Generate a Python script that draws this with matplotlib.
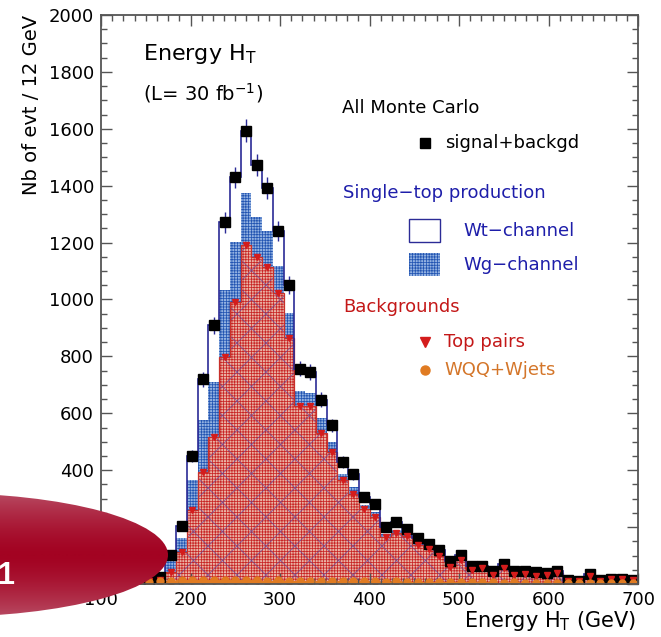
import numpy as np
import matplotlib
matplotlib.use("Agg")
import matplotlib.pyplot as plt
from matplotlib.patches import Rectangle, Ellipse
from matplotlib.ticker import MultipleLocator
from matplotlib.colors import LinearSegmentedColormap
from matplotlib.collections import LineCollection

# H_T histogram, 12 GeV bins from 100 to 700 GeV
bin_edges = np.arange(100, 701, 12)

# events per bin for each contribution (stacked bottom to top)
wjets = [0, 0, 1, 2, 6, 10, 12, 14, 14, 15, 14, 15, 14, 13, 14, 12, 13, 12, 11, 12,
         10, 11, 10, 9, 10, 9, 8, 9, 8, 8, 7, 8, 7, 6, 7, 6, 6, 5, 6, 5,
         5, 5, 4, 5, 4, 4, 4, 3, 4, 3]
top_pairs = [0, 1, 1, 3, 4, 5, 31, 99, 246, 379, 501, 782, 976, 1177, 1135, 1102, 1009, 852, 614, 615,
             519, 453, 355, 306, 253, 225, 158, 169, 160, 129, 115, 90, 54, 78, 42, 49, 26, 52, 26, 30,
             23, 27, 34, 7, 6, 24, 8, 14, 13, 10]
wg_channel = [0, 0, 0, 0, 2, 5, 41, 47, 107, 184, 195, 235, 211, 184, 142, 128, 94, 87, 53, 46,
              56, 35, 23, 26, 14, 20, 9, 11, 10, 8, 6, 7, 5, 6, 4, 4, 4, 5, 4, 3,
              3, 3, 3, 1, 1, 3, 2, 1, 2, 1]
wt_channel = [0, 0, 0, 1, 2, 6, 18, 45, 82, 141, 199, 239, 228, 219, 182, 150, 126, 100, 79, 73,
              63, 59, 41, 44, 29, 27, 26, 30, 14, 15, 14, 16, 15, 12, 11, 5, 9, 10, 8, 6,
              10, 3, 3, 0, 0, 5, 1, 0, 0, 0]

x_ticks = [100, 200, 300, 400, 500, 600, 700]
y_ticks = [0, 200, 400, 600, 800, 1000, 1200, 1400, 1600, 1800, 2000]

c1 = np.array(wjets, float)
c2 = c1 + np.array(top_pairs, float)
c3 = c2 + np.array(wg_channel, float)
c4 = c3 + np.array(wt_channel, float)
centers = 0.5 * (bin_edges[:-1] + bin_edges[1:])

NAVY = '#2b2b96'
BLUE_TXT = '#1e1eaa'
RED_TXT = '#c41818'
ORANGE = '#e07b22'
WG_FACE = '#93b2e2'
WG_HATCH = '#2355b2'
TT_FACE = '#eab2a4'
TT_HATCH = '#c82626'
DIAG = '#5e4aa6'


def hatch_lw(artist, lw):
    if hasattr(artist, 'set_hatch_linewidth'):
        artist.set_hatch_linewidth(lw)


fig = plt.figure(figsize=(6.61, 6.37), dpi=100)
W, H = 661, 637
AX_W, AX_H = 537, 569
ax = fig.add_axes([101 / W, 1 - 584 / H, AX_W / W, AX_H / H])

plt.rcParams['hatch.linewidth'] = 0.55

# stacked histograms
ax.stairs(c1, bin_edges, baseline=0, fill=True, facecolor=ORANGE, edgecolor=ORANGE, lw=0, zorder=1)
tt = ax.stairs(c2, bin_edges, baseline=c1, fill=True, facecolor=TT_FACE, hatch='++++++',
               edgecolor=TT_HATCH, lw=0, zorder=1)
hatch_lw(tt, 0.55)

# sparse crossing diagonal lines inside the top-pair area
segs = []
for off in np.arange(-AX_H, AX_W, 29.0):
    segs.append([(off / AX_W, 0.0), ((off + AX_H) / AX_W, 1.0)])
    segs.append([((off + AX_H) / AX_W, 0.0), (off / AX_W, 1.0)])
diag = LineCollection(segs, colors=DIAG, linewidths=0.6, alpha=0.7, transform=ax.transAxes, zorder=1.1)
ax.add_collection(diag)
diag.set_clip_path(tt)

ax.stairs(c2, bin_edges, baseline=0, fill=False, color='#c8302a', lw=0.9, zorder=1.2)
p = ax.stairs(c3, bin_edges, baseline=c2, fill=True, facecolor=WG_FACE, hatch='++++++',
              edgecolor=WG_HATCH, lw=0, zorder=1)
hatch_lw(p, 0.55)
ax.stairs(c4, bin_edges, baseline=c3, fill=True, facecolor='white', lw=0, zorder=1)
ax.stairs(c4, bin_edges, baseline=0, fill=False, color=NAVY, lw=1.2, zorder=2)

# markers
ax.errorbar(centers, c4, yerr=np.sqrt(c4), fmt='s', color='black', ms=7.5,
            ecolor=NAVY, elinewidth=1.0, capsize=0, zorder=4)
ax.plot(centers, c2, 'v', color='#d41c1c', ms=5, zorder=5)
ax.plot(centers, c1, 'o', color=ORANGE, ms=5, zorder=5)

ax.set_xlim(100, 700)
ax.set_ylim(0, 2000)
ax.set_xticks(x_ticks)
ax.set_yticks(y_ticks)
ax.xaxis.set_minor_locator(MultipleLocator(12.5))
ax.yaxis.set_minor_locator(MultipleLocator(50))
ax.tick_params(which='both', direction='in', top=True, right=True, color='#555555', width=1.0)
ax.tick_params(which='major', length=8, labelsize=13, pad=5)
ax.tick_params(which='minor', length=4.5)
for s in ax.spines.values():
    s.set_color('#555555')
    s.set_linewidth(1.3)
    s.set_zorder(6)

# annotations
fig.text(32 / W, 1 - 15 / H, 'Nb of evt / 12 GeV', rotation=90, ha='center', va='top', fontsize=14)
fig.text(636 / W, 1 - 621 / H, r'Energy H$_{\mathrm{T}}$ (GeV)', ha='right', va='center', fontsize=15)

def fx(px):
    return (px - 101) / AX_W

def fy(py):
    return (584 - py) / AX_H

T = ax.transAxes
ax.text(fx(143), fy(54), r'Energy H$_{\mathrm{T}}$', transform=T, ha='left', va='center', fontsize=16)
ax.text(fx(143), fy(93), r'(L= 30 fb$^{-1}$)', transform=T, ha='left', va='center', fontsize=14)
ax.text(fx(342), fy(108), 'All Monte Carlo', transform=T, ha='left', va='center', fontsize=13)
ax.plot([fx(425)], [fy(143)], 's', color='black', ms=7, transform=T, clip_on=False)
ax.text(fx(445), fy(143), 'signal+backgd', transform=T, ha='left', va='center', fontsize=13)
ax.text(fx(343), fy(193), 'Single\u2212top production', transform=T, ha='left', va='center',
        fontsize=13, color=BLUE_TXT)
ax.add_patch(Rectangle((fx(409), fy(242)), fx(440) - fx(409), fy(219) - fy(242), transform=T,
                       facecolor='white', edgecolor=NAVY, lw=1.0, zorder=5))
ax.text(fx(463), fy(231), 'Wt\u2212channel', transform=T, ha='left', va='center', fontsize=13, color=BLUE_TXT)
r = Rectangle((fx(409), fy(276)), fx(440) - fx(409), fy(253) - fy(276), transform=T,
              facecolor=WG_FACE, edgecolor=WG_HATCH, hatch='++++++', lw=0, zorder=5)
ax.add_patch(r)
hatch_lw(r, 0.55)
ax.text(fx(463), fy(265), 'Wg\u2212channel', transform=T, ha='left', va='center', fontsize=13, color=BLUE_TXT)
ax.text(fx(343), fy(307), 'Backgrounds', transform=T, ha='left', va='center', fontsize=13, color=RED_TXT)
ax.plot([fx(425)], [fy(342)], 'v', color='#d41c1c', ms=7, transform=T, clip_on=False)
ax.text(fx(444), fy(342), 'Top pairs', transform=T, ha='left', va='center', fontsize=13, color=RED_TXT)
ax.plot([fx(425)], [fy(370)], 'o', color=ORANGE, ms=6.5, transform=T, clip_on=False)
ax.text(fx(444), fy(370), 'WQQ+Wjets', transform=T, ha='left', va='center', fontsize=13, color='#d4762a')

# page badge in the lower left corner
ov = fig.add_axes([0, 0, 1, 1], zorder=10)
ov.axis('off')
ell = Ellipse((-60, 555), 456, 124, facecolor='none', edgecolor='none')
ov.add_patch(ell)
grad = np.abs(np.linspace(-1, 1, 256))[:, None] ** 1.5
cmap = LinearSegmentedColormap.from_list('badge', ['#a30322', '#b84a62'])
im = ov.imshow(grad, cmap=cmap, extent=(-300, 200, 617, 493), aspect='auto', interpolation='bilinear')
im.set_clip_path(ell)
ov.text(-3, 576, '1', color='white', fontsize=22, fontweight='bold', family='Liberation Sans',
        ha='left', va='center')
ov.set_xlim(0, W)
ov.set_ylim(H, 0)

fig.savefig('out.png', dpi=100)
